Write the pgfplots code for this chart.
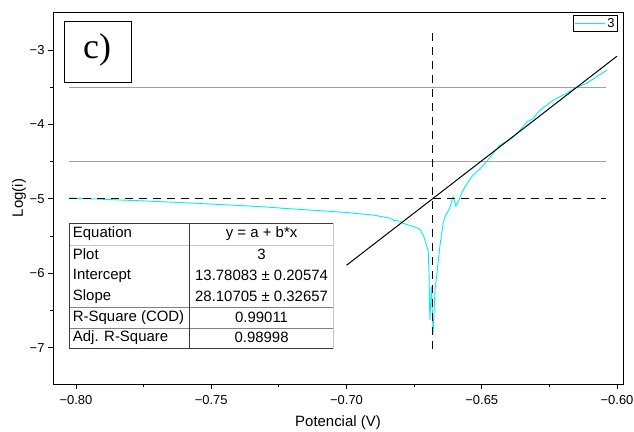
\documentclass[border=0pt]{standalone}
\usepackage{fontspec}
\setmainfont{Liberation Sans}
\newfontfamily\timesfont{Liberation Serif}
\usepackage{pgfplots}
\pgfplotsset{compat=1.18}
\definecolor{curve}{RGB}{0,240,240}
\definecolor{refgray}{RGB}{160,160,160}
\definecolor{tabdark}{RGB}{60,60,60}
\definecolor{tablight}{RGB}{200,200,200}
\definecolor{tabmid}{RGB}{130,130,130}

\begin{document}
\begin{tikzpicture}
\begin{axis}[
    scale only axis,
    width=570bp, height=372bp,
    xmin=-0.8085, xmax=-0.5978,
    ymin=-7.49, ymax=-2.49,
    xtick={-0.80,-0.75,-0.70,-0.65,-0.60},
    xticklabels={−0.80,−0.75,−0.70,−0.65,−0.60},
    ytick={-7,-6,-5,-4,-3},
    yticklabels={−7,−6,−5,−4,−3},
    minor x tick num=1, minor y tick num=1,
    tick align=outside, tick pos=left,
    major tick length=5bp, minor tick length=3bp,
    every tick/.style={black, line width=0.8bp},
    axis line style={line width=1bp},
    tick label style={font=\fontsize{13}{15}\selectfont},
    xticklabel style={yshift=-3bp},
    xlabel={Potencial (V)}, ylabel={Log(i)},
    every axis x label/.style={at={(axis description cs:0.5,-0.105)}, anchor=center, font=\fontsize{15}{17}\selectfont},
    every axis y label/.style={at={(axis description cs:-0.0596,0.5)}, anchor=center, rotate=90, font=\fontsize{15}{17}\selectfont},
    legend style={at={(axis description cs:0.991,0.992)}, anchor=north east, draw=black, line width=0.8bp,
        font=\fontsize{13}{15}\selectfont, inner sep=1bp},
    legend image code/.code={\draw[#1] (0bp,0bp) -- (30bp,0bp);},
    clip=false,
]
% measured curve
\addplot[curve, line width=0.9bp] coordinates {
    (-0.8026,-4.99) (-0.795,-5.00) (-0.785,-5.015) (-0.7763,-5.027) (-0.765,-5.045)
    (-0.7505,-5.071) (-0.740,-5.09) (-0.730,-5.11) (-0.7209,-5.135) (-0.710,-5.16)
    (-0.700,-5.185) (-0.690,-5.22) (-0.684,-5.26) (-0.6825,-5.29) (-0.6803,-5.30)
    (-0.679,-5.33) (-0.6766,-5.36) (-0.6747,-5.38) (-0.6729,-5.41) (-0.6715,-5.50)
    (-0.6705,-5.62) (-0.6698,-5.70) (-0.6695,-6.00) (-0.6692,-6.63) (-0.6686,-6.18)
    (-0.6680,-6.82) (-0.6673,-6.23) (-0.6667,-6.05) (-0.6655,-5.64) (-0.6643,-5.33)
    (-0.6636,-5.24) (-0.6618,-5.12) (-0.6606,-4.97) (-0.6596,-5.10) (-0.6585,-5.02)
    (-0.6575,-4.93) (-0.6562,-4.84) (-0.6544,-4.74) (-0.6532,-4.68) (-0.6507,-4.60)
    (-0.6482,-4.50) (-0.6458,-4.39) (-0.6433,-4.28) (-0.6408,-4.23) (-0.6384,-4.17)
    (-0.6359,-4.08) (-0.6334,-3.97) (-0.6310,-3.92) (-0.6285,-3.81) (-0.6236,-3.675)
    (-0.6187,-3.585) (-0.6150,-3.50) (-0.6113,-3.45) (-0.6076,-3.36) (-0.6037,-3.27)
};
\addlegendentry{3}

% reference levels
\addplot[refgray, line width=0.9bp, forget plot] coordinates {(-0.8026,-3.5) (-0.604,-3.5)};
\addplot[refgray, line width=0.9bp, forget plot] coordinates {(-0.8026,-4.5) (-0.604,-4.5)};
\addplot[black, line width=1bp, dash pattern=on 8bp off 6bp, forget plot] coordinates {(-0.8026,-5) (-0.604,-5)};
\addplot[black, line width=1bp, dash pattern=on 8bp off 6bp, forget plot] coordinates {(-0.6681,-2.776) (-0.6681,-7.04)};

% linear fit y = a + b*x
\addplot[black, line width=1bp, forget plot] coordinates {(-0.70,-5.8941) (-0.60,-3.0834)};

% label box
\draw[line width=1bp] (axis cs:-0.80443,-2.615) rectangle (axis cs:-0.7793,-3.434);
\node at (axis cs:-0.7922,-3.00) {\timesfont\fontsize{36}{38}\selectfont c)};

% fit table
\fill[white] (axis cs:-0.8026,-5.326) rectangle (axis cs:-0.705,-7.017);
\draw[tablight, line width=0.8bp] (axis cs:-0.8026,-5.621) -- (axis cs:-0.705,-5.621);
\draw[tabmid, line width=1bp] (axis cs:-0.8026,-6.467) -- (axis cs:-0.705,-6.467);
\draw[tabmid, line width=0.8bp] (axis cs:-0.8026,-6.736) -- (axis cs:-0.705,-6.736);
\draw[tablight, line width=0.8bp] (axis cs:-0.705,-5.326) -- (axis cs:-0.705,-7.017);
\draw[tabdark, line width=0.8bp] (axis cs:-0.705,-5.326) -- (axis cs:-0.8026,-5.326) -- (axis cs:-0.8026,-7.017) -- (axis cs:-0.705,-7.017);
\draw[tabdark, line width=0.8bp] (axis cs:-0.7579,-5.326) -- (axis cs:-0.7579,-7.017);
\begin{scope}[font=\fontsize{15}{17}\selectfont]
\node[anchor=west, inner sep=0pt] at (axis cs:-0.8012,-5.474) {Equation};
\node[anchor=west, inner sep=0pt] at (axis cs:-0.8012,-5.746) {Plot};
\node[anchor=west, inner sep=0pt] at (axis cs:-0.8012,-6.034) {Intercept};
\node[anchor=west, inner sep=0pt] at (axis cs:-0.8012,-6.315) {Slope};
\node[anchor=west, inner sep=0pt] at (axis cs:-0.8012,-6.592) {R-Square (COD)};
\node[anchor=west, inner sep=0pt] at (axis cs:-0.8012,-6.866) {Adj. R-Square};
\node[inner sep=0pt] at (axis cs:-0.7314,-5.474) {y = a + b*x};
\node[inner sep=0pt] at (axis cs:-0.7314,-5.746) {3};
\node[inner sep=0pt] at (axis cs:-0.7314,-6.034) {13.78083 ± 0.20574};
\node[inner sep=0pt] at (axis cs:-0.7314,-6.315) {28.10705 ± 0.32657};
\node[inner sep=0pt] at (axis cs:-0.7314,-6.592) {0.99011};
\node[inner sep=0pt] at (axis cs:-0.7314,-6.866) {0.98998};
\end{scope}
\end{axis}
\pgfresetboundingbox
\path ([shift={(-53bp,-48bp)}]current axis.south west) rectangle ([shift={(11bp,12bp)}]current axis.north east);
\end{tikzpicture}
\end{document}
